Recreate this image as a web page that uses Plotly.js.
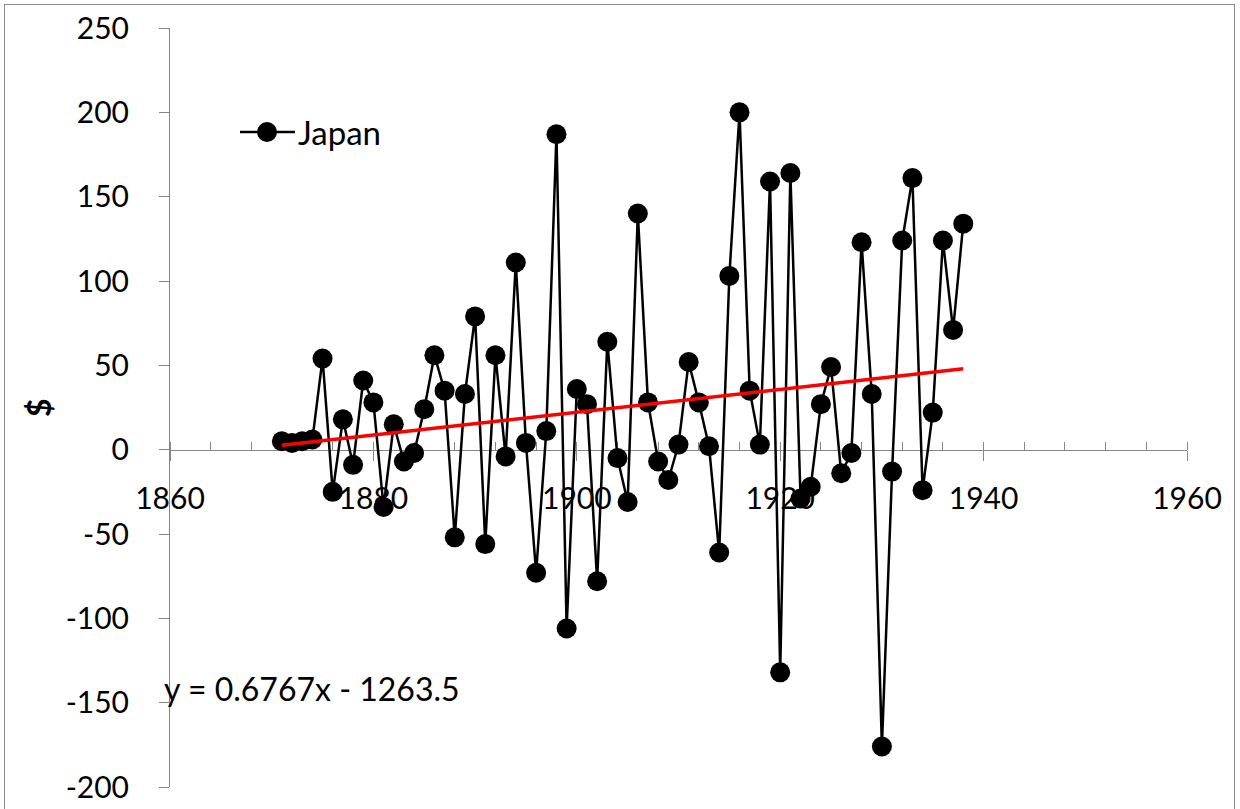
<!DOCTYPE html>
<html>
<head>
<meta charset="utf-8">
<script src="https://cdn.plot.ly/plotly-3.0.1.min.js"></script>
<style>
  html, body { margin: 0; padding: 0; background: #fff; }
  #wrap { position: relative; width: 1240px; height: 809px; overflow: hidden; }
  #chart { position: absolute; left: 0; top: 0; width: 1240px; height: 809px; }
  #frame { position: absolute; left: 4px; top: 4px; width: 1231px; height: 840px;
           border: 1px solid #8c8c8c; box-sizing: border-box; pointer-events: none; }
</style>
</head>
<body>
<div id="wrap">
  <div id="chart"></div>
  <div id="frame"></div>
</div>
<script>
const seriesName = "Japan";
const years = [1871, 1872, 1873, 1874, 1875, 1876, 1877, 1878, 1879, 1880,
               1881, 1882, 1883, 1884, 1885, 1886, 1887, 1888, 1889, 1890,
               1891, 1892, 1893, 1894, 1895, 1896, 1897, 1898, 1899, 1900,
               1901, 1902, 1903, 1904, 1905, 1906, 1907, 1908, 1909, 1910,
               1911, 1912, 1913, 1914, 1915, 1916, 1917, 1918, 1919, 1920,
               1921, 1922, 1923, 1924, 1925, 1926, 1927, 1928, 1929, 1930,
               1931, 1932, 1933, 1934, 1935, 1936, 1937, 1938];
const japanValues = [5, 4, 5, 6, 54, -25, 18, -9, 41, 28,
                     -34, 15, -7, -2, 24, 56, 35, -52, 33, 79,
                     -56, 56, -4, 111, 4, -73, 11, 187, -106, 36,
                     27, -78, 64, -5, -31, 140, 28, -7, -18, 3,
                     52, 28, 2, -61, 103, 200, 35, 3, 159, -132,
                     164, -29, -22, 27, 49, -14, -2, 123, 33, -176,
                     -13, 124, 161, -24, 22, 124, 71, 134];
const trendSlope = 0.6767;
const trendIntercept = -1263.5;
const trendLabel = "y = 0.6767x - 1263.5";
const yAxisTitle = "$";
const xTickVals = [1860, 1880, 1900, 1920, 1940, 1960];
const xTickLabels = ["1860", "1880", "1900", "1920", "1940", "1960"];
const yTickVals = [-200, -150, -100, -50, 0, 50, 100, 150, 200, 250];
const yTickLabels = ["-200", "-150", "-100", "-50", "0", "50", "100", "150", "200", "250"];

const trendX = [years[0], years[years.length - 1]];
const trendY = trendX.map(x => trendSlope * x + trendIntercept);

const FONT = "Lato, 'Open Sans', 'Noto Sans', sans-serif";
const AXIS_GRAY = "#868686";

// plot-area geometry helpers for the hand-drawn legend (paper coordinates)
const PL = 170, PR = 53, PT = 28, PB = 22, W = 1240, H = 809;
const pw = W - PL - PR, ph = H - PT - PB;
const px = v => (v - PL) / pw;
const py = v => (H - PB - v) / ph;

const data = [
  {
    x: years, y: japanValues, name: seriesName,
    type: "scatter", mode: "lines+markers",
    line: { color: "#000000", width: 2.5 },
    marker: { color: "#000000", size: 20 },
    showlegend: false
  },
  {
    x: trendX, y: trendY, name: "Linear (" + seriesName + ")",
    type: "scatter", mode: "lines",
    line: { color: "#ff0000", width: 3.5 },
    showlegend: false, hoverinfo: "skip"
  }
];

const layout = {
  width: W, height: H,
  margin: { l: PL, r: PR, t: PT, b: PB, pad: 0 },
  paper_bgcolor: "#ffffff", plot_bgcolor: "#ffffff",
  font: { family: FONT, size: 30, color: "#000000" },
  showlegend: false,
  xaxis: {
    range: [1860, 1960],
    tickmode: "array", tickvals: xTickVals, ticktext: xTickLabels,
    anchor: "free", position: 200 / 450,
    showgrid: false, zeroline: false,
    showline: true, linecolor: AXIS_GRAY, linewidth: 1,
    ticks: "outside", ticklen: 10, tickcolor: AXIS_GRAY, tickwidth: 1,
    minor: { dtick: 4, tick0: 1860, ticks: "inside", ticklen: 8, tickcolor: AXIS_GRAY, tickwidth: 1, showgrid: false },
    ticklabelstandoff: 12,
    tickfont: { family: FONT, size: 30, color: "#000000" },
    layer: "below traces"
  },
  yaxis: {
    range: [-200, 250],
    tickmode: "array", tickvals: yTickVals, ticktext: yTickLabels,
    showgrid: false, zeroline: false,
    showline: true, linecolor: AXIS_GRAY, linewidth: 1,
    ticks: "outside", ticklen: 10, tickcolor: AXIS_GRAY, tickwidth: 1,
    ticklabelstandoff: 24,
    tickfont: { family: FONT, size: 30, color: "#000000" },
    layer: "below traces"
  },
  shapes: [
    { type: "line", xref: "paper", yref: "paper",
      x0: px(240), x1: px(295), y0: py(132), y1: py(132),
      line: { color: "#000000", width: 2.5 } },
    { type: "circle", xref: "paper", yref: "paper",
      x0: px(257), x1: px(277), y0: py(142), y1: py(122),
      fillcolor: "#000000", line: { color: "#000000", width: 0 } }
  ],
  annotations: [
    {
      xref: "paper", yref: "paper", x: px(296), y: py(132),
      xanchor: "left", yanchor: "middle", showarrow: false,
      text: seriesName, font: { family: FONT, size: 33, color: "#000000" }
    },
    {
      xref: "paper", yref: "paper", x: px(162), y: py(688),
      xanchor: "left", yanchor: "middle", showarrow: false,
      text: trendLabel, font: { family: FONT, size: 32, color: "#000000" }
    },
    {
      xref: "paper", yref: "paper", x: px(39), y: py(408),
      xanchor: "center", yanchor: "middle", showarrow: false, textangle: -90,
      text: "<b>" + yAxisTitle + "</b>", font: { family: FONT, size: 32, color: "#000000" }
    }
  ]
};

Plotly.newPlot("chart", data, layout, { displayModeBar: false, staticPlot: true });
</script>
</body>
</html>
